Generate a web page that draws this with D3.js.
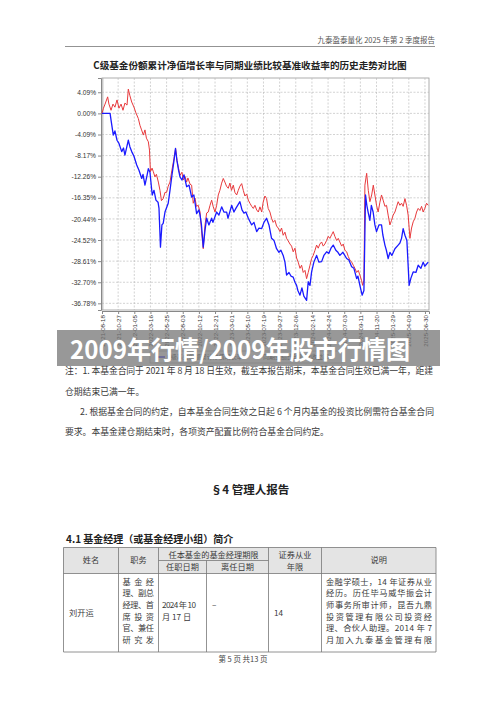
<!DOCTYPE html>
<html><head><meta charset="utf-8">
<script src="https://cdn.jsdelivr.net/npm/d3@7"></script>
<style>body{margin:0;background:#fff}svg{display:block}</style>
</head><body><svg id="c" width="500" height="706"></svg>
<script>
// ---------- data ----------
const chartTitle = "C级基金份额累计净值增长率与同期业绩比较基准收益率的历史走势对比图";
const seriesNames = ["C级基金份额累计净值增长率", "同期业绩比较基准收益率"];
const xTickLabels = ["2021-08-18","2021-10-27","2022-01-05","2022-03-16","2022-05-25","2022-08-03","2022-10-12","2022-12-21","2023-03-01","2023-05-10","2023-07-19","2023-09-27","2023-12-06","2024-02-14","2024-04-24","2024-07-03","2024-09-11","2024-11-20","2025-01-29","2025-04-09","2025-06-30"];
const yTickValues = [4.09, 0, -4.09, -8.17, -12.26, -16.35, -20.44, -24.52, -28.61, -32.70, -36.78];
// position along the axis, in tick intervals from 2021-08-18
const fundT = [0,0.50,0.56,0.70,0.80,0.93,1.05,1.22,1.33,1.42,1.55,1.63,1.73,1.84,1.98,2.15,2.29,2.46,2.54,2.66,2.79,2.87,2.97,3.11,3.22,3.34,3.47,3.53,3.62,3.71,3.79,3.90,4.10,4.21,4.33,4.46,4.55,4.64,4.74,4.83,4.95,5.08,5.24,5.39,5.55,5.69,5.86,6.00,6.07,6.16,6.27,6.38,6.48,6.62,6.79,6.87,7.10,7.24,7.41,7.55,7.72,7.80,8.03,8.17,8.29,8.54,8.67,8.79,8.91,9.06,9.27,9.41,9.58,9.72,9.89,10.03,10.19,10.34,10.50,10.65,10.81,10.96,11.08,11.22,11.33,11.43,11.58,11.70,11.84,11.95,12.05,12.13,12.26,12.38,12.50,12.67,12.77,12.88,12.98,13.12,13.29,13.43,13.60,13.74,13.91,14.05,14.18,14.32,14.48,14.61,14.73,14.92,15.15,15.29,15.46,15.60,15.77,15.85,15.97,16.11,16.22,16.32,16.40,16.48,16.59,16.68,16.79,16.90,17.00,17.15,17.31,17.39,17.52,17.61,17.72,17.83,17.95,18.14,18.34,18.45,18.55,18.65,18.76,18.88,19.02,19.13,19.27,19.44,19.58,19.75,19.89,19.99,20.20];
const fundVals = [0,0,-1.3,-4.2,-3.4,-5.2,-5.8,-7.4,-6.7,-8.1,-6.3,-5.2,-6.5,-7.4,-8.3,-10.0,-11.0,-12.6,-11.8,-13.9,-12.0,-10.7,-11.4,-15.8,-14.9,-16.8,-17.2,-18.4,-25.9,-21.6,-21.3,-19.1,-17.4,-14.9,-12.0,-9.1,-6.8,-9.1,-11.0,-12.3,-12.9,-11.9,-14.2,-13.9,-16.2,-15.8,-19.4,-18.7,-19.7,-21.6,-25.9,-22.6,-20.3,-21.6,-20.3,-21.1,-19.1,-19.7,-18.1,-19.1,-19.1,-20.3,-17.8,-19.1,-18.4,-17.1,-18.7,-19.3,-19.1,-20.3,-21.6,-21.1,-22.9,-22.2,-22.3,-21.1,-20.3,-21.6,-24.2,-24.6,-26.2,-26.9,-26.5,-27.5,-28.8,-31.3,-30.8,-31.5,-31.7,-32.7,-33.3,-34.3,-35.2,-33.8,-35.4,-36.2,-32.6,-33.3,-30.7,-28.8,-27.5,-28.8,-28.7,-27.5,-26.8,-27.1,-26.1,-25.5,-26.5,-26.9,-27.5,-26.9,-28.1,-28.4,-29.7,-30.0,-32.0,-31.5,-33.3,-35.2,-34.3,-15.8,-17.8,-19.1,-20.7,-17.8,-19.1,-21.6,-22.9,-21.6,-21.6,-23.5,-25.5,-26.5,-28.1,-26.9,-27.5,-26.2,-25.5,-25.1,-24.2,-22.3,-23.6,-24.6,-33.3,-31.9,-30.7,-30.8,-29.4,-30.0,-28.8,-29.6,-28.8];
const benchT = [0,0.09,0.19,0.35,0.43,0.56,0.68,0.80,0.93,1.05,1.18,1.30,1.42,1.55,1.63,1.73,1.84,1.98,2.10,2.25,2.35,2.45,2.56,2.66,2.75,2.87,2.94,3.00,3.10,3.18,3.28,3.37,3.49,3.59,3.68,3.79,3.90,4.00,4.10,4.21,4.33,4.46,4.56,4.64,4.74,4.83,4.95,5.03,5.14,5.24,5.32,5.45,5.55,5.65,5.76,5.85,5.96,6.07,6.16,6.27,6.38,6.48,6.58,6.69,6.79,6.89,7.00,7.10,7.20,7.30,7.41,7.51,7.61,7.71,7.82,7.92,8.02,8.13,8.23,8.34,8.44,8.54,8.65,8.75,8.85,8.96,9.06,9.16,9.27,9.37,9.47,9.58,9.68,9.78,9.89,9.98,10.09,10.19,10.29,10.40,10.50,10.60,10.71,10.81,10.91,11.02,11.12,11.22,11.33,11.43,11.53,11.64,11.74,11.84,11.95,12.05,12.15,12.26,12.36,12.46,12.57,12.67,12.77,12.88,12.98,13.08,13.19,13.29,13.39,13.49,13.60,13.70,13.80,13.91,14.01,14.11,14.22,14.32,14.42,14.53,14.63,14.73,14.84,14.94,15.04,15.15,15.25,15.35,15.46,15.56,15.66,15.77,15.87,15.97,16.07,16.14,16.22,16.28,16.39,16.49,16.59,16.70,16.80,16.90,17.00,17.10,17.21,17.31,17.41,17.52,17.62,17.72,17.83,17.93,18.03,18.14,18.24,18.34,18.45,18.55,18.65,18.76,18.86,18.96,19.07,19.17,19.27,19.38,19.48,19.58,19.69,19.79,19.89,19.99,20.10,20.20];
const benchVals = [0,1.0,1.8,3.2,1.8,0.6,1.8,1.2,2.6,1.0,1.8,0.6,2.0,1.6,4.7,3.4,2.2,1.2,0.1,-1.0,-2.3,-3.2,-4.2,-3.2,-4.8,-5.5,-7.1,-11.3,-10.6,-11.3,-12.3,-11.8,-13.3,-14.9,-16.9,-16.5,-15.3,-15.3,-14.1,-13.3,-11.0,-8.7,-6.8,-9.1,-10.6,-12.0,-11.4,-12.9,-12.2,-13.3,-12.5,-13.7,-13.9,-17.4,-16.4,-18.0,-17.8,-19.1,-22.6,-26.2,-21.6,-19.3,-19.1,-17.8,-16.8,-18.1,-19.1,-17.8,-15.8,-14.9,-13.5,-12.6,-13.3,-14.1,-14.5,-13.5,-14.9,-13.9,-15.3,-15.8,-14.9,-14.1,-13.6,-14.9,-16.0,-15.6,-16.8,-17.4,-18.0,-18.4,-17.8,-18.7,-19.1,-18.1,-19.1,-17.2,-16.0,-16.5,-18.4,-19.1,-20.3,-21.1,-20.7,-21.8,-22.2,-22.9,-22.2,-23.6,-23.0,-24.2,-24.7,-25.3,-25.7,-26.8,-26.1,-28.0,-28.8,-30.0,-29.4,-30.8,-30.4,-32.0,-30.8,-29.4,-28.1,-27.5,-26.5,-25.5,-26.1,-25.3,-24.9,-25.7,-25.3,-24.6,-23.8,-24.2,-23.5,-22.9,-23.8,-24.6,-24.2,-24.9,-25.7,-25.3,-26.5,-26.8,-27.7,-28.4,-28.8,-29.4,-30.0,-30.8,-30.4,-31.3,-32.3,-33.3,-32.3,-13.9,-11.6,-14.9,-17.1,-15.8,-13.9,-15.8,-17.8,-19.1,-17.2,-15.8,-16.8,-18.0,-17.8,-19.7,-21.6,-20.7,-19.7,-19.1,-18.1,-17.1,-17.8,-17.4,-18.0,-16.5,-17.8,-19.7,-24.2,-22.2,-21.0,-20.3,-19.1,-18.4,-18.8,-18.0,-19.1,-18.4,-17.4,-17.8];

const headerText = "九泰盈泰量化 2025 年第 2 季度报告";
const watermark = "2009年行情/2009年股市行情图";
const noteLines = ["注：1. 本基金合同于 2021 年 8 月 18 日生效，截至本报告期末，本基金合同生效已满一年，距建","仓期结束已满一年。","2. 根据基金合同的约定，自本基金合同生效之日起 6 个月内基金的投资比例需符合基金合同","要求。本基金建仓期结束时，各项资产配置比例符合基金合同约定。"];
const sectionTitle = "§4  管理人报告";
const subTitle = "4.1  基金经理（或基金经理小组）简介";
const tableHead1 = ["姓名","职务","任本基金的基金经理期限","证券从业","说明"];
const tableHead2 = ["任职日期","离任日期","年限"];
const managerName = "刘开运";
const managerPost = ["基金经","理、副总","经理、首","席投资","官、兼任","研究发"];
const managerStart = ["2024 年 10","月 17 日"];
const managerEnd = "–";
const managerYears = "14";
const managerDesc = ["金融学硕士，14 年证券从业","经历。历任毕马威华振会计","师事务所审计师，昆吾九鼎","投资管理有限公司投资经","理、合伙人助理。2014 年 7","月加入九泰基金管理有限"];
const footerText = "第 5 页 共13 页";

// ---------- drawing ----------
const svg = d3.select("#c");
const CJK = "'Noto Sans CJK SC','Noto Sans',sans-serif";
const LAT = "'Liberation Sans',Arial,sans-serif";
const txtCol = "#3a3a3a";

// page header
svg.append("text").attr("x",435).attr("y",43).attr("text-anchor","end")
  .attr("font-family",CJK).attr("font-size",7.5).attr("fill","#555").text(headerText);
svg.append("line").attr("x1",65).attr("x2",435).attr("y1",46.5).attr("y2",46.5)
  .attr("stroke","#777").attr("stroke-width",0.8);

// chart
const x = d3.scaleLinear().domain([0,20.25]).range([102,429]);
const y = d3.scaleLinear().domain([-38.07,6.85]).range([310,78]);

svg.append("text").attr("x",250).attr("y",68.5).attr("text-anchor","middle")
  .attr("font-family",CJK).attr("font-weight","bold").attr("font-size",9.6).attr("fill","#222")
  .text(chartTitle);

const g = svg.append("g");
g.append("rect").attr("x",102).attr("y",78).attr("width",327).attr("height",232)
  .attr("fill","#fff").attr("stroke","#999").attr("stroke-width",0.8);
// grid
g.selectAll(".hg").data(yTickValues).join("line")
  .attr("x1",102).attr("x2",429).attr("y1",d=>y(d)).attr("y2",d=>y(d))
  .attr("stroke","#b5b5b5").attr("stroke-width",0.6).attr("stroke-dasharray","2,1.5");
g.selectAll(".vg").data(d3.range(1,21)).join("line")
  .attr("x1",d=>x(d)).attr("x2",d=>x(d)).attr("y1",78).attr("y2",310)
  .attr("stroke","#b5b5b5").attr("stroke-width",0.6).attr("stroke-dasharray","2,1.5");

// axes
const yAxis = g.append("g").attr("transform","translate(101,0)")
  .call(d3.axisLeft(y).tickValues(yTickValues).tickSize(3).tickPadding(2)
    .tickFormat(d=>d.toFixed(2)+"%"));
yAxis.select(".domain").attr("stroke","#888");
yAxis.selectAll(".tick line").attr("stroke","#888");
yAxis.selectAll("text").attr("font-family",LAT).attr("font-size",6.6).attr("fill","#333");
g.append("line").attr("x1",103).attr("x2",103).attr("y1",78).attr("y2",310).attr("stroke","#aaa").attr("stroke-width",0.6);

const xAxis = g.append("g").attr("transform","translate(0,311)")
  .call(d3.axisBottom(x).tickValues(d3.range(21)).tickSize(3)
    .tickFormat(i=>xTickLabels[i]));
xAxis.select(".domain").attr("stroke","#888");
xAxis.selectAll(".tick line").attr("stroke","#888");
xAxis.selectAll("text").attr("font-family",LAT).attr("font-size",6.2).attr("fill","#333")
  .attr("transform","rotate(-90)").attr("text-anchor","end")
  .attr("x",-4).attr("y",0).attr("dy","0.35em");

// lines
const lineGen = d3.line().x(d=>x(d[0])).y(d=>y(d[1]));
const benchData = benchT.map((t,i)=>[t,benchVals[i]]);
const fundData = fundT.map((t,i)=>[t,fundVals[i]]);
g.append("path").datum(benchData).attr("d",lineGen).attr("fill","none")
  .attr("stroke","#e8393c").attr("stroke-width",1).attr("stroke-linejoin","round");
g.append("path").datum(fundData).attr("d",lineGen).attr("fill","none")
  .attr("stroke","#1a1aff").attr("stroke-width",1.3).attr("stroke-linejoin","round");

// legend
const lg = svg.append("g");
lg.append("rect").attr("x",150).attr("y",351).attr("width",192).attr("height",12)
  .attr("fill","#fff").attr("stroke","#999").attr("stroke-width",0.6);
const legColors = ["#1a1aff","#e8393c"];
const legX = [156,252];
seriesNames.forEach((n,i)=>{
  lg.append("line").attr("x1",legX[i]).attr("x2",legX[i]+9).attr("y1",357).attr("y2",357)
    .attr("stroke",legColors[i]).attr("stroke-width",1.5);
  lg.append("text").attr("x",legX[i]+11).attr("y",359.3).attr("font-family",CJK)
    .attr("font-size",6).attr("fill","#333").text(n);
});

// watermark band
svg.append("rect").attr("x",57).attr("y",330).attr("width",383).attr("height",36)
  .attr("fill","#777").attr("opacity",0.76);
svg.append("text").attr("x",70).attr("y",358.5).attr("font-family",CJK).attr("font-weight","bold")
  .attr("font-size",25).attr("fill","#fff").attr("textLength",340).attr("lengthAdjust","spacingAndGlyphs")
  .text(watermark);

// notes
const noteX = [65,65,80,65], noteY = [373.5,395,414.5,435], noteLen = [368,null,354,null];
noteLines.forEach((t,i)=>{
  const el = svg.append("text").attr("x",noteX[i]).attr("y",noteY[i]).attr("font-family",CJK)
    .attr("font-size",8.8).attr("fill",txtCol).text(t);
  if (noteLen[i]) el.attr("textLength",noteLen[i]).attr("lengthAdjust","spacing");
});

// section titles
svg.append("text").attr("x",250).attr("y",494).attr("text-anchor","middle").attr("font-family",CJK)
  .attr("font-weight","bold").attr("font-size",11.5).attr("fill","#222").text(sectionTitle);
svg.append("text").attr("x",66).attr("y",543).attr("font-family",CJK)
  .attr("font-weight","bold").attr("font-size",10).attr("fill","#222").text(subTitle);

// table
const colX = [63.5,118.5,158.5,206.5,268.5,321.5,436];
const rowY = [547.5,560.5,573.5,652];
const tb = svg.append("g");
tb.append("rect").attr("x",colX[0]).attr("y",rowY[0]).attr("width",colX[6]-colX[0]).attr("height",rowY[2]-rowY[0])
  .attr("fill","#e4e4e4");
const lines = [];
lines.push([colX[0],rowY[0],colX[6],rowY[0]]);
lines.push([colX[2],rowY[1],colX[4],rowY[1]]);
lines.push([colX[0],rowY[2],colX[6],rowY[2]]);
lines.push([colX[0],rowY[3],colX[6],rowY[3]]);
colX.forEach((cx,i)=>{ if(i===3) lines.push([cx,rowY[1],cx,rowY[3]]); else lines.push([cx,rowY[0],cx,rowY[3]]); });
tb.selectAll("line").data(lines).join("line")
  .attr("x1",d=>d[0]).attr("y1",d=>d[1]).attr("x2",d=>d[2]).attr("y2",d=>d[3])
  .attr("stroke","#777").attr("stroke-width",0.8);
const cell = (t,xx,yy,anchor,len)=>{
  const el = tb.append("text").attr("x",xx).attr("y",yy).attr("text-anchor",anchor||"start")
    .attr("font-family",CJK).attr("font-size",8.2).attr("fill",txtCol).text(t);
  if (len) el.attr("textLength",len).attr("lengthAdjust","spacing");
  return el;
};
cell(tableHead1[0],(colX[0]+colX[1])/2,563,"middle");
cell(tableHead1[1],(colX[1]+colX[2])/2,563,"middle");
cell(tableHead1[2],(colX[2]+colX[4])/2,557.5,"middle");
cell(tableHead1[3],(colX[4]+colX[5])/2,557.5,"middle");
cell(tableHead1[4],(colX[5]+colX[6])/2,563,"middle");
cell(tableHead2[0],(colX[2]+colX[3])/2,570,"middle");
cell(tableHead2[1],(colX[3]+colX[4])/2,570,"middle");
cell(tableHead2[2],(colX[4]+colX[5])/2,570,"middle");
cell(managerName,69,616);
managerPost.forEach((t,i)=>cell(t,122.5,584.5+i*11.7,"start",31.5));
managerStart.forEach((t,i)=>cell(t,162,608+i*11.7,"start",i===0?34:null));
cell(managerEnd,212,608);
cell(managerYears,274,616);
managerDesc.forEach((t,i)=>cell(t,326,584.5+i*11.7,"start",106));

// footer
svg.append("text").attr("x",243).attr("y",661.5).attr("text-anchor","middle").attr("font-family",CJK)
  .attr("font-size",7.5).attr("fill","#444").text(footerText);
</script></body></html>
